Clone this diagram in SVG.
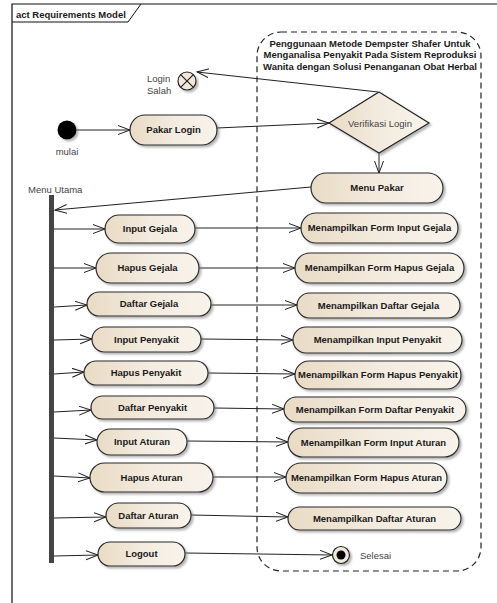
<svg xmlns="http://www.w3.org/2000/svg" width="497" height="603" viewBox="0 0 497 603">
<defs>
<style>
.box{fill:url(#g);stroke:#2a2a2a;stroke-width:1.2;filter:url(#sh)}
.lbl{font-family:"Liberation Sans",Arial,sans-serif;font-size:9.5px;font-weight:bold;fill:#1a1a1a;text-anchor:middle}
.txt{font-family:"Liberation Sans",Arial,sans-serif;font-size:9.5px;fill:#444}
.c{stroke:#222;stroke-width:1;fill:none;marker-end:url(#a)}
</style>
<linearGradient id="g" x1="0" y1="0" x2="1" y2="0">
<stop offset="0" stop-color="#e9dbc5"/>
<stop offset="0.5" stop-color="#f3ebdf"/>
<stop offset="1" stop-color="#f8f3eb"/>
</linearGradient>
<filter id="sh" x="-10%" y="-20%" width="125%" height="150%">
<feDropShadow dx="2" dy="2" stdDeviation="1" flood-color="#777" flood-opacity="0.55"/>
</filter>
<marker id="a" markerUnits="userSpaceOnUse" markerWidth="14" markerHeight="12" refX="12" refY="5" orient="auto">
<path d="M0,0.5 L12,5 L0,9.5" fill="none" stroke="#222" stroke-width="1"/>
</marker>
</defs>
<rect width="497" height="603" fill="#fff"/>
<g id="frame">
<path d="M12,603 L12,4 L497,4" fill="none" stroke="#111" stroke-width="1.2"/>
<path d="M12,22 L128,22 L141,4" fill="none" stroke="#111" stroke-width="1"/>
<text x="16" y="17.5" class="lbl" style="text-anchor:start">act Requirements Model</text>
</g>
<g id="partition">
<rect x="257" y="32" width="224" height="539" rx="24" ry="24" fill="none" stroke="#222" stroke-width="1.2" stroke-dasharray="6,4"/>
<text class="lbl" x="370" y="46.5">Penggunaan Metode Dempster Shafer Untuk</text>
<text class="lbl" x="370" y="58">Menganalisa Penyakit Pada Sistem Reproduksi</text>
<text class="lbl" x="370" y="69.5">Wanita dengan Solusi Penanganan Obat Herbal</text>
</g>
<g id="connectors">
<line class="c" x1="378" y1="92" x2="197" y2="72"/>
<line class="c" x1="76" y1="130" x2="130" y2="130"/>
<line class="c" x1="217" y1="128" x2="329" y2="123"/>
<line class="c" x1="379" y1="153" x2="379" y2="173"/>
<line class="c" x1="311" y1="187" x2="55" y2="210"/>
<line class="c" x1="54" y1="229" x2="105" y2="229"/>
<line class="c" x1="195" y1="228" x2="301" y2="228"/>
<line class="c" x1="54" y1="268" x2="96" y2="268"/>
<line class="c" x1="199" y1="268" x2="295" y2="268"/>
<line class="c" x1="54" y1="307" x2="87" y2="305"/>
<line class="c" x1="211" y1="305" x2="297" y2="305"/>
<line class="c" x1="54" y1="340" x2="92" y2="339"/>
<line class="c" x1="201" y1="339" x2="293" y2="340"/>
<line class="c" x1="54" y1="374" x2="84" y2="372"/>
<line class="c" x1="208" y1="373" x2="295" y2="374"/>
<line class="c" x1="54" y1="412" x2="91" y2="410"/>
<line class="c" x1="214" y1="408" x2="284" y2="409"/>
<line class="c" x1="54" y1="438" x2="97" y2="440"/>
<line class="c" x1="187" y1="441" x2="288" y2="442"/>
<line class="c" x1="54" y1="476" x2="90" y2="478"/>
<line class="c" x1="213" y1="477" x2="286" y2="477"/>
<line class="c" x1="54" y1="518" x2="106" y2="517"/>
<line class="c" x1="191" y1="515" x2="288" y2="517"/>
<line class="c" x1="54" y1="556" x2="98" y2="555"/>
<line class="c" x1="185" y1="553" x2="332" y2="555"/>
</g>
<g id="mulai">
<circle cx="67" cy="130" r="9.5" fill="#000" filter="url(#sh)"/>
<text class="txt" x="67" y="155" style="text-anchor:middle">mulai</text>
</g>
<g id="login-salah">
<circle cx="187" cy="81" r="9" fill="#f1e8da" stroke="#222" stroke-width="1.2" filter="url(#sh)"/>
<path d="M180.6,74.6 L193.4,87.4 M193.4,74.6 L180.6,87.4" stroke="#222" stroke-width="1.2"/>
<text class="txt" x="147" y="81.5">Login</text>
<text class="txt" x="147" y="93.5">Salah</text>
</g>
<g id="pakar-login">
<rect class="box" x="130" y="115" width="87" height="30" rx="15"/>
<text class="lbl" x="173.5" y="133.3">Pakar Login</text>
</g>
<g id="verifikasi-login">
<path d="M379,92 L429,123 L379,153 L329,123 Z" fill="url(#g)" stroke="#222" stroke-width="1.2" filter="url(#sh)"/>
<text class="txt" x="380" y="126.5" style="text-anchor:middle">Verifikasi Login</text>
</g>
<g id="menu-pakar">
<rect class="box" x="311" y="173" width="132" height="30" rx="15"/>
<text class="lbl" x="377" y="191.3">Menu Pakar</text>
</g>
<g id="menu-utama">
<rect x="49" y="195" width="5" height="368" fill="#444"/>
<text class="txt" x="28" y="192.5">Menu Utama</text>
</g>
<g id="input-gejala">
<rect class="box" x="105" y="215" width="90" height="28" rx="14"/>
<text class="lbl" x="150" y="232.3">Input Gejala</text>
</g>
<g id="hapus-gejala">
<rect class="box" x="96" y="253" width="103" height="30" rx="15"/>
<text class="lbl" x="147.5" y="271.3">Hapus Gejala</text>
</g>
<g id="daftar-gejala">
<rect class="box" x="87" y="292" width="124" height="24" rx="12"/>
<text class="lbl" x="149" y="307.3">Daftar Gejala</text>
</g>
<g id="input-penyakit">
<rect class="box" x="92" y="327" width="109" height="25" rx="12.5"/>
<text class="lbl" x="146.5" y="342.8">Input Penyakit</text>
</g>
<g id="hapus-penyakit">
<rect class="box" x="84" y="361" width="124" height="24" rx="12"/>
<text class="lbl" x="146" y="376.3">Hapus Penyakit</text>
</g>
<g id="daftar-penyakit">
<rect class="box" x="91" y="396" width="123" height="23" rx="11.5"/>
<text class="lbl" x="152.5" y="410.8">Daftar Penyakit</text>
</g>
<g id="input-aturan">
<rect class="box" x="97" y="429" width="90" height="26" rx="13"/>
<text class="lbl" x="142" y="445.3">Input Aturan</text>
</g>
<g id="hapus-aturan">
<rect class="box" x="90" y="463" width="123" height="29" rx="14.5"/>
<text class="lbl" x="151.5" y="480.8">Hapus Aturan</text>
</g>
<g id="daftar-aturan">
<rect class="box" x="106" y="503" width="85" height="25" rx="12.5"/>
<text class="lbl" x="148.5" y="518.8">Daftar Aturan</text>
</g>
<g id="logout">
<rect class="box" x="98" y="542" width="87" height="24" rx="12"/>
<text class="lbl" x="141.5" y="557.3">Logout</text>
</g>
<g id="m-form-input-gejala">
<rect class="box" x="301" y="213" width="157" height="30" rx="15"/>
<text class="lbl" x="379.5" y="231.3">Menampilkan Form Input Gejala</text>
</g>
<g id="m-form-hapus-gejala">
<rect class="box" x="295" y="253" width="169" height="30" rx="15"/>
<text class="lbl" x="379.5" y="271.3">Menampilkan Form Hapus Gejala</text>
</g>
<g id="m-daftar-gejala">
<rect class="box" x="297" y="293" width="163" height="25" rx="12.5"/>
<text class="lbl" x="378.5" y="308.8">Menampilkan Daftar Gejala</text>
</g>
<g id="m-input-penyakit">
<rect class="box" x="293" y="327" width="169" height="26" rx="13"/>
<text class="lbl" x="377.5" y="343.3">Menampilkan Input Penyakit</text>
</g>
<g id="m-form-hapus-penyakit">
<rect class="box" x="295" y="361" width="166" height="28" rx="14"/>
<text class="lbl" x="378" y="378.3">Menampilkan Form Hapus Penyakit</text>
</g>
<g id="m-form-daftar-penyakit">
<rect class="box" x="284" y="397" width="182" height="25" rx="12.5"/>
<text class="lbl" x="375" y="412.8">Menampilkan Form Daftar Penyakit</text>
</g>
<g id="m-form-input-aturan">
<rect class="box" x="288" y="428" width="171" height="29" rx="14.5"/>
<text class="lbl" x="373.5" y="445.8">Menampilkan Form Input Aturan</text>
</g>
<g id="m-form-hapus-aturan">
<rect class="box" x="286" y="463" width="161" height="30" rx="15"/>
<text class="lbl" x="366.5" y="481.3">Menampilkan Form Hapus Aturan</text>
</g>
<g id="m-daftar-aturan">
<rect class="box" x="288" y="507" width="173" height="23" rx="11.5"/>
<text class="lbl" x="374.5" y="521.8">Menampilkan Daftar Aturan</text>
</g>
<g id="selesai">
<circle cx="341" cy="555" r="8.5" fill="#f1e8da" stroke="#222" stroke-width="1.2" filter="url(#sh)"/>
<circle cx="341" cy="555" r="4.5" fill="#000"/>
<text class="txt" x="360" y="558.5">Selesai</text>
</g>
</svg>
